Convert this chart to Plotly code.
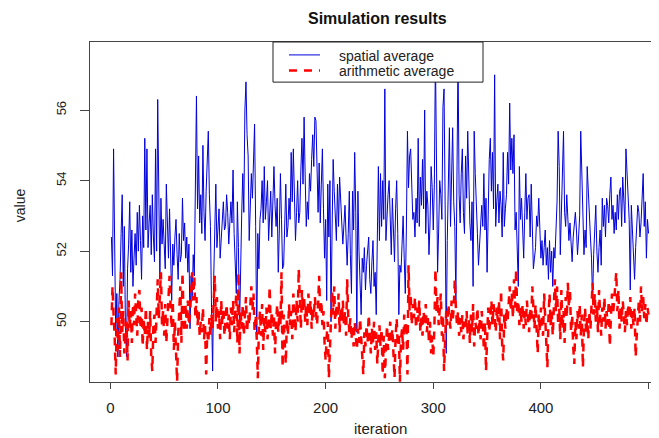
import plotly.graph_objects as go

# values (one per iteration, 1..500)
spatial_avg = [
    52.4, 51.3, 54.9, 52.0, 49.6, 50.8, 49.0, 50.6, 51.2, 52.5,
    53.6, 51.0, 52.7, 49.9, 49.0, 51.5, 52.2, 53.4, 51.4, 52.6,
    51.0, 51.8, 52.5, 51.6, 53.1, 52.0, 53.3, 52.3, 51.2, 53.0,
    52.1, 55.2, 52.6, 54.9, 52.1, 52.8, 53.3, 51.9, 53.6, 52.4,
    51.7, 54.9, 52.0, 56.3, 53.0, 51.2, 53.5, 52.2, 52.9, 52.0,
    51.5, 53.9, 52.6, 51.8, 53.2, 52.1, 50.6, 52.2, 51.6, 52.4,
    52.9, 51.9, 51.2, 52.5, 51.7, 51.9, 53.5, 52.3, 52.8, 51.8,
    52.4, 51.4, 52.2, 49.8, 51.3, 50.6, 51.9, 51.3, 53.5, 56.4,
    53.2, 54.7, 52.8, 53.6, 52.5, 55.0, 53.1, 52.3, 53.7, 54.9,
    55.4, 53.6, 52.7, 50.4, 48.6, 51.2, 52.4, 53.9, 52.1, 52.7,
    53.2, 51.8, 52.3, 52.9, 53.4, 52.6, 52.7, 53.6, 53.1, 52.2,
    52.7, 53.4, 52.8, 54.3, 52.5, 51.7, 50.8, 53.4, 52.1, 49.8,
    51.9, 53.0, 54.2, 53.1, 56.0, 56.8, 55.3, 54.7, 52.3, 53.6,
    54.2, 53.5, 54.4, 55.6, 52.7, 49.5, 52.5, 51.5, 52.9, 53.2,
    54.0, 52.8, 54.4, 52.9, 53.4, 54.0, 52.3, 53.1, 53.7, 52.4,
    53.9, 54.4, 53.3, 52.7, 53.5, 51.4, 52.6, 54.2, 52.9, 51.5,
    51.6, 52.8, 53.9, 52.4, 52.7, 53.5, 52.9, 54.8, 53.4, 54.9,
    53.6, 52.3, 53.1, 54.0, 52.8, 53.1, 54.3, 55.2, 53.9, 55.8,
    54.1, 52.7, 53.4, 52.9, 54.2, 53.7, 54.6, 55.3, 54.4, 55.8,
    55.7, 54.0, 53.1, 54.5, 52.8, 53.9, 54.9, 53.2, 51.8, 52.9,
    50.6, 53.9, 52.4, 54.0, 50.0, 52.6, 54.6, 53.7, 52.9, 52.3,
    53.9, 52.7, 54.1, 53.6, 52.8, 52.2, 53.0, 53.3, 52.4, 51.6,
    52.5, 53.7, 51.9, 50.8, 53.7, 52.6, 54.8, 53.1, 49.7, 53.7,
    52.0, 50.8, 50.2, 51.8, 51.4, 52.1, 50.9, 51.6, 51.9, 52.4,
    51.2, 50.8, 51.7, 52.3, 51.0, 51.4, 50.2, 53.1, 54.4, 52.3,
    54.2, 52.7, 54.0, 52.9, 56.6, 52.3, 53.1, 53.6, 54.0, 52.6,
    51.9, 53.5, 52.4, 51.7, 53.2, 54.0, 52.5, 50.2, 51.6, 51.4,
    52.2, 53.0, 51.8, 50.8, 52.6, 55.4, 53.8, 54.7, 54.9, 53.5,
    52.9, 53.1, 52.4, 53.5, 52.8, 55.2, 52.7, 54.1, 53.3, 54.6,
    53.2, 56.0, 52.5, 53.7, 53.3, 51.9, 52.8, 54.4, 53.8, 52.6,
    53.9, 57.6, 53.2, 51.4, 52.6, 54.0, 53.6, 52.9, 56.1, 56.6,
    53.4, 49.1, 52.3, 53.6, 55.5, 52.7, 54.1, 55.5, 53.4, 52.7,
    50.6, 53.3, 57.6, 53.6, 52.8, 54.2, 54.9, 53.1, 52.5, 54.7,
    53.5, 55.4, 53.9, 52.8, 52.3, 53.4, 51.0, 55.4, 54.2, 52.9,
    52.5, 51.6, 52.1, 52.9, 53.3, 52.7, 54.2, 52.6, 53.5, 51.4,
    53.1, 54.6, 55.2, 53.7, 54.8, 53.2, 57.0, 52.7, 53.4, 53.9,
    52.8, 53.7, 53.3, 52.4, 54.8, 52.7, 53.2, 53.6, 54.8, 53.9,
    56.2, 54.3, 55.2, 54.2, 55.3, 52.6, 53.1, 52.3, 51.0, 54.4,
    52.9, 53.5, 52.3, 51.8, 53.1, 54.2, 52.9, 53.5, 53.6, 52.4,
    53.9, 52.9, 51.5, 51.8, 52.1, 53.0, 52.7, 53.5, 52.6, 51.8,
    52.3, 51.6, 52.1, 52.6, 51.6, 52.1, 51.2, 52.3, 51.4, 52.0,
    51.0, 52.1, 51.8, 52.7, 53.4, 55.4, 54.4, 51.9, 53.2, 54.4,
    55.4, 53.1, 52.7, 53.6, 53.0, 52.3, 52.8, 52.1, 51.7, 52.4,
    52.7, 53.1, 52.6, 51.9, 52.4, 53.0, 55.4, 54.1, 53.7, 51.9,
    52.6, 52.1, 54.4, 53.6, 53.1, 52.4, 51.8, 50.6, 51.9, 52.7,
    53.3, 52.0, 51.4, 52.1, 52.6, 51.6, 53.5, 52.7, 53.3, 52.4,
    53.5, 53.3, 52.8, 53.6, 54.1, 52.9, 53.3, 52.5, 53.1, 52.6,
    53.6, 52.9, 53.7, 53.8, 52.7, 54.1, 53.5, 52.8, 54.9, 54.2,
    53.4, 52.9, 50.9, 53.3, 52.6, 51.8, 51.2, 52.1, 52.8, 53.3,
    53.1, 52.4, 52.8, 53.5, 54.2, 52.7, 53.4, 51.8, 52.9, 52.5,
]

arithmetic_avg = [
    49.9, 51.0, 50.2, 49.6, 48.5, 50.1, 49.2, 50.4, 49.0, 51.4,
    49.7, 50.3, 49.1, 49.5, 50.0, 48.9, 50.6, 49.8, 50.3, 49.4,
    50.5, 49.9, 50.8, 50.2, 49.6, 50.7, 50.9, 49.8, 50.4, 49.3,
    50.1, 49.6, 50.4, 49.2, 50.0, 49.5, 50.3, 49.0, 48.6, 49.9,
    50.2, 49.4, 50.7, 51.2, 50.1, 50.8, 51.4, 49.9, 50.3, 49.6,
    50.5, 49.4, 50.1, 50.9, 51.3, 50.4, 49.8, 50.6, 49.2, 50.0,
    49.1, 48.3, 49.6, 50.3, 51.0, 49.4, 51.4, 50.2, 49.7, 50.5,
    49.8, 50.6, 49.9, 50.2, 50.8, 51.4, 50.6, 51.3, 50.1, 50.7,
    49.9, 50.3, 49.6, 50.0, 49.7, 50.4, 49.5, 49.9, 48.5, 49.7,
    49.4, 50.1, 49.6, 50.2, 49.8, 50.5, 51.3, 50.0, 50.7, 49.8,
    50.3, 49.5, 50.6, 49.9, 50.4, 49.6, 50.1, 50.5, 49.8, 50.2,
    49.5, 50.4, 49.9, 50.6, 49.7, 50.2, 50.8, 49.4, 51.4, 49.1,
    50.3, 49.8, 50.5, 49.6, 50.1, 50.7, 49.7, 50.2, 49.9, 50.6,
    51.0, 50.3, 50.8, 49.7, 50.2, 49.5, 48.4, 49.8, 50.3, 49.6,
    50.5, 49.2, 50.1, 49.7, 50.4, 49.5, 50.0, 51.0, 49.8, 50.3,
    49.6, 50.2, 49.1, 50.0, 50.5, 49.7, 50.3, 49.9, 51.4, 48.7,
    50.2, 49.4, 48.8, 50.1, 49.6, 50.5, 49.9, 50.3, 49.5, 50.8,
    50.2, 49.7, 50.6, 50.0, 51.5, 50.4, 49.8, 50.9, 50.3, 50.7,
    50.0, 50.5, 49.9, 50.8, 50.2, 50.6, 49.8, 50.4, 50.1, 50.7,
    50.3, 49.9, 50.5, 51.3, 50.2, 50.6, 49.9, 50.3, 49.4, 48.9,
    49.6, 50.0, 48.4, 49.3, 50.4, 50.9, 50.2, 51.0, 49.8, 50.5,
    50.1, 50.8, 49.7, 50.4, 50.0, 50.6, 49.9, 50.3, 49.6, 51.2,
    50.2, 49.7, 50.1, 49.5, 49.9, 49.3, 50.0, 49.6, 49.2, 49.8,
    49.4, 50.1, 49.5, 49.0, 48.5, 49.7, 49.3, 49.9, 49.4, 50.2,
    49.6, 49.1, 49.8, 49.4, 50.0, 49.2, 49.7, 48.8, 49.5, 49.9,
    49.3, 49.8, 48.5, 49.6, 48.4, 49.5, 49.9, 49.2, 49.7, 50.0,
    49.4, 49.8, 49.1, 48.4, 49.6, 50.1, 49.3, 49.7, 48.3, 49.5,
    49.8, 49.2, 50.2, 49.6, 50.0, 48.5, 51.6, 50.3, 50.8, 49.9,
    50.5, 50.1, 50.7, 49.8, 50.4, 50.0, 50.6, 49.7, 50.2, 49.6,
    50.3, 49.9, 50.5, 49.7, 50.1, 49.4, 50.0, 49.1, 49.6, 49.0,
    49.8, 51.5, 50.3, 50.7, 49.9, 50.4, 50.8, 49.6, 50.2, 48.6,
    49.7, 50.3, 49.9, 50.5, 50.1, 49.8, 50.6, 50.0, 50.4, 51.2,
    50.4, 49.9, 50.3, 49.6, 50.1, 49.7, 50.2, 49.5, 50.0, 49.8,
    50.3, 49.6, 50.1, 49.4, 50.2, 49.7, 50.5, 49.3, 50.0, 49.8,
    50.4, 49.6, 50.1, 49.5, 50.3, 49.9, 49.2, 50.0, 48.6, 49.8,
    50.4, 49.7, 50.2, 50.6, 49.9, 50.5, 50.1, 49.7, 50.4, 50.0,
    50.6, 49.5, 50.9, 49.3, 48.9, 50.2, 49.8, 50.4, 50.0, 50.7,
    51.0, 50.3, 50.8, 50.1, 51.2, 50.4, 51.5, 50.2, 50.6, 49.9,
    50.4, 50.0, 50.5, 49.8, 50.3, 49.9, 50.6, 50.1, 49.7, 50.4,
    50.0, 51.0, 50.3, 49.8, 50.5, 49.9, 49.1, 50.2, 49.7, 50.4,
    50.0, 49.6, 50.8, 50.2, 49.7, 48.7, 50.1, 50.8, 49.9, 50.3,
    49.6, 50.5, 51.2, 50.3, 51.0, 49.9, 50.4, 49.5, 50.9, 49.8,
    50.3, 49.4, 50.7, 50.1, 51.1, 50.4, 50.9, 49.7, 50.2, 49.3,
    48.8, 50.0, 49.5, 50.3, 49.8, 50.5, 49.6, 50.2, 48.7, 49.9,
    50.4, 49.7, 50.1, 49.5, 50.3, 49.8, 50.6, 51.1, 50.2, 50.8,
    50.0, 50.5, 49.7, 50.9, 50.2, 49.6, 50.4, 50.0, 50.7, 49.8,
    50.3, 49.9, 50.6, 49.3, 50.1, 50.8, 50.2, 50.6, 51.0, 51.4,
    50.3, 50.9, 49.8, 50.4, 50.0, 50.6, 50.2, 49.7, 50.3, 49.9,
    50.5, 50.1, 50.7, 49.8, 50.3, 49.9, 50.4, 49.0, 49.6, 50.2,
    50.6, 50.0, 51.0, 50.3, 50.7, 50.1, 50.5, 49.9, 50.4, 50.2,
]

iterations = list(range(1, len(spatial_avg) + 1))
x_ticks = [0, 100, 200, 300, 400, 500]
y_ticks = [50, 52, 54, 56]

BLUE = "#0000dd"
RED = "#ff0000"
AXIS = "#444444"
TEXT = "#222222"
FONT = "Liberation Sans, Arial, sans-serif"

fig = go.Figure()
fig.add_trace(go.Scatter(x=iterations, y=spatial_avg, mode="lines",
                         name="spatial average",
                         line=dict(color=BLUE, width=1)))
fig.add_trace(go.Scatter(x=iterations, y=arithmetic_avg, mode="lines",
                         name="arithmetic average",
                         line=dict(color=RED, width=2.5, dash="8px,7px")))

# hand-drawn legend box, like R's legend()
fig.add_shape(type="rect", xref="paper", yref="paper", x0=0.3216, x1=0.6907,
              y0=0.882, y1=1.0, line=dict(color="#222222", width=1),
              fillcolor="white")
fig.add_shape(type="line", xref="paper", yref="paper", x0=0.3497, x1=0.4042,
              y0=0.962, y1=0.962, line=dict(color=BLUE, width=1))
fig.add_shape(type="line", xref="paper", yref="paper", x0=0.3497, x1=0.4042,
              y0=0.916, y1=0.916, line=dict(color=RED, width=2.5, dash="8px,7px"))
fig.add_annotation(xref="paper", yref="paper", x=0.434, y=0.959, xanchor="left",
                   yanchor="middle", text="spatial average", showarrow=False,
                   font=dict(family=FONT, size=14, color=TEXT))
fig.add_annotation(xref="paper", yref="paper", x=0.434, y=0.915, xanchor="left",
                   yanchor="middle", text="arithmetic average", showarrow=False,
                   font=dict(family=FONT, size=14, color=TEXT))

# title and axis titles
fig.add_annotation(xref="paper", yref="paper", x=0.506, y=1.069, xanchor="center",
                   yanchor="middle", text="<b>Simulation results</b>", showarrow=False,
                   font=dict(family=FONT, size=16, color="#111111"))
fig.add_annotation(xref="paper", yref="paper", x=0.51, y=-0.138, xanchor="center",
                   yanchor="middle", text="iteration", showarrow=False,
                   font=dict(family=FONT, size=15, color=TEXT))
fig.add_annotation(xref="paper", yref="paper", x=-0.123, y=0.52, xanchor="center",
                   yanchor="middle", text="value", textangle=-90, showarrow=False,
                   font=dict(family=FONT, size=14, color=TEXT))

fig.update_xaxes(range=[-18.9, 509.7], tickvals=x_ticks, ticks="outside", ticklen=6,
                 tickcolor=AXIS, showline=True, mirror=True, linecolor=AXIS,
                 linewidth=1, showgrid=False, zeroline=False, ticklabelstandoff=6,
                 automargin=False,
                 tickfont=dict(family=FONT, size=15, color=TEXT))
fig.update_yaxes(range=[48.29, 57.93], tickvals=y_ticks, ticks="outside", ticklen=9,
                 tickcolor=AXIS, showline=True, linecolor=AXIS, linewidth=1,
                 showgrid=False, zeroline=False, tickangle=-90, ticklabelstandoff=9,
                 automargin=False,
                 tickfont=dict(family=FONT, size=13, color=TEXT))
# the page body adds an 8px margin, so the figure is 8px smaller on each side
fig.update_layout(width=651, height=430, showlegend=False,
                  margin=dict(l=82, r=0, t=34, b=56),
                  paper_bgcolor="white", plot_bgcolor="white")

fig.write_html("out.html")
